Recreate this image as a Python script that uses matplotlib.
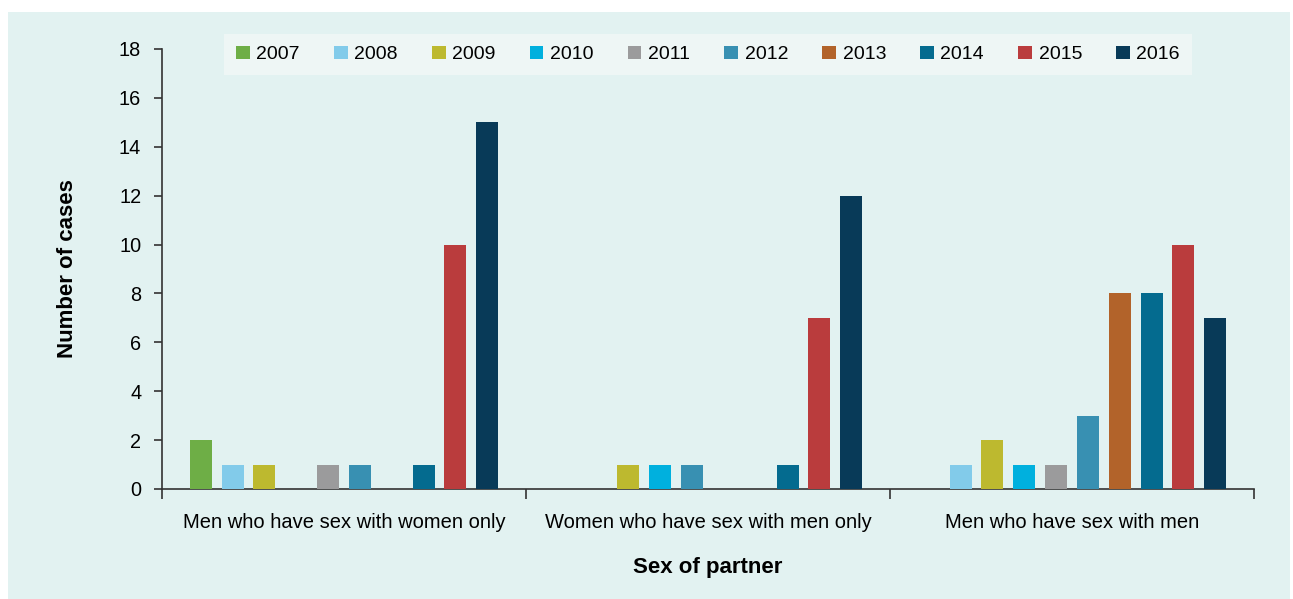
import numpy as np
import matplotlib
matplotlib.use("Agg")
import matplotlib.pyplot as plt
from matplotlib.patches import Rectangle

plt.rcParams['font.family'] = ['Liberation Sans', 'DejaVu Sans']

categories = ["Men who have sex with women only",
              "Women who have sex with men only",
              "Men who have sex with men"]
years = ["2007", "2008", "2009", "2010", "2011",
         "2012", "2013", "2014", "2015", "2016"]

cases_2007 = [2, 0, 0]
cases_2008 = [1, 0, 1]
cases_2009 = [1, 1, 2]
cases_2010 = [0, 1, 1]
cases_2011 = [1, 1, 1]
cases_2012 = [1, 0, 3]
cases_2013 = [0, 0, 8]
cases_2014 = [1, 1, 8]
cases_2015 = [10, 7, 10]
cases_2016 = [15, 12, 7]
series = [cases_2007, cases_2008, cases_2009, cases_2010, cases_2011,
          cases_2012, cases_2013, cases_2014, cases_2015, cases_2016]

colors = ["#6EAE46", "#82CBEA", "#BDB92F", "#00B0DE", "#9B9B9C",
          "#3890B2", "#B2632A", "#046B8F", "#BA3C3D", "#083A58"]
# one point in the original is drawn in the 2012 colour (2011, second group)
point_color = {(4, 1): "#3890B2"}

BG = "#E2F2F1"

fig = plt.figure(figsize=(12.93, 5.99), dpi=100)
fig.patch.set_facecolor("white")
fig.patches.append(Rectangle((8 / 1293, 0), 1282 / 1293, 1 - 12 / 599,
                             transform=fig.transFigure, facecolor=BG,
                             edgecolor="none", zorder=-10))

ax = fig.add_axes([162 / 1293, 1 - 489 / 599, (1254 - 162) / 1293, (489 - 49) / 599])
ax.set_facecolor("none")

x = np.arange(len(categories))
slot = 0.0874
width = 0.0604
for i, (yr, vals) in enumerate(zip(years, series)):
    pos = x + (i - 4.5) * slot
    cols = [point_color.get((i, j), colors[i]) for j in range(len(vals))]
    ax.bar(pos, vals, width=width, color=cols, label=yr, zorder=3)

ax.set_xlim(-0.5, 2.5)
ax.set_ylim(0, 18)
ax.set_yticks(np.arange(0, 19, 2))
ax.set_xticks(x)
ax.set_xticklabels(categories, fontsize=14.5)
ax.set_xticks([-0.5, 0.5, 1.5, 2.5], minor=True)
ax.tick_params(axis='x', which='major', length=0, pad=17)
ax.tick_params(axis='x', which='minor', length=7, width=1.2, color="#333333")
ax.tick_params(axis='y', length=6, width=1.2, color="#333333", labelsize=14.3, pad=9)

for s in ["top", "right"]:
    ax.spines[s].set_visible(False)
for s in ["left", "bottom"]:
    ax.spines[s].set_color("#333333")
    ax.spines[s].set_linewidth(1.2)

ax.set_ylabel("Number of cases", fontsize=16, fontweight="bold")
ax.yaxis.set_label_coords(-(162 - 78) / 1092, 0.5)
fig.text(708 / 1293, 1 - 568 / 599, "Sex of partner", fontsize=16,
         fontweight="bold", ha="center", va="center")

leg = ax.legend(loc="upper center", bbox_to_anchor=(0.5, 1.043), ncol=10,
                fontsize=14, frameon=True, fancybox=False, handlelength=0.7,
                handleheight=0.7, handletextpad=0.35, columnspacing=1.75,
                borderpad=0.6, borderaxespad=0.2)
leg.get_frame().set_facecolor("#EEF6F5")
leg.get_frame().set_edgecolor("none")
leg.get_frame().set_alpha(1)

fig.savefig("out.png", dpi=100, facecolor=fig.get_facecolor())
